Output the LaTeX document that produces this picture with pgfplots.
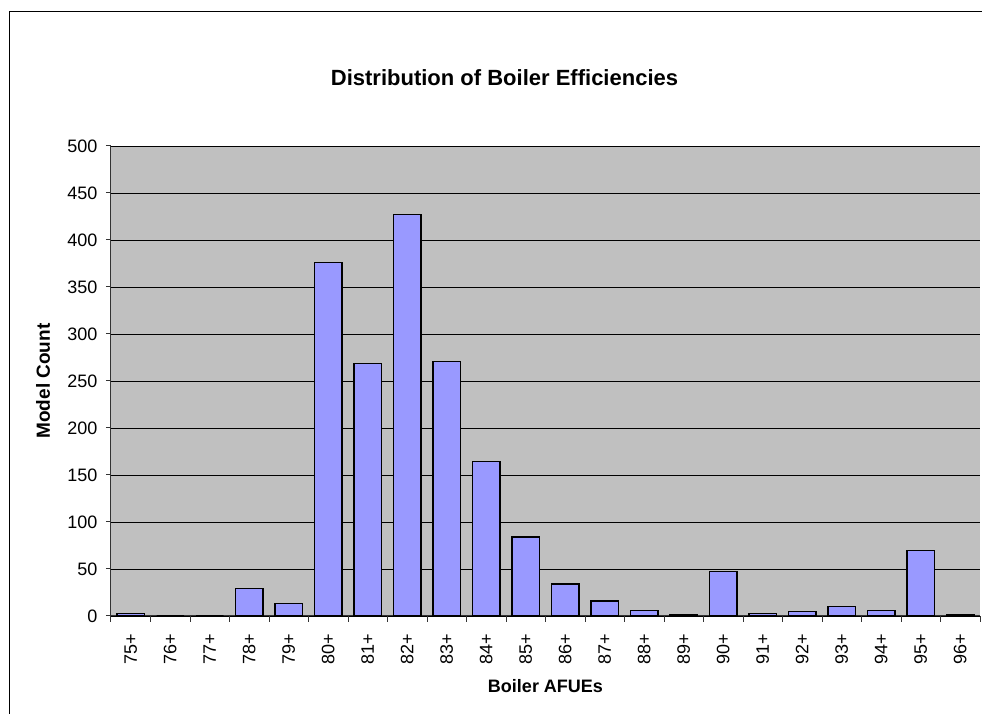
\documentclass[border=0pt]{standalone}
\usepackage{pgfplots}
\pgfplotsset{compat=1.18}
\usepackage{fontspec}
\setmainfont{Liberation Sans}
\definecolor{plotgray}{HTML}{C0C0C0}
\definecolor{barblue}{HTML}{9999FF}
\pgfplotstableread{
x y
0 3
1 0
2 0
3 29
4 13
5 376
6 269
7 427
8 271
9 164
10 84
11 34
12 16
13 6
14 2
15 47
16 3
17 5
18 10
19 6
20 70
21 2
}\datatable
\begin{document}
\begin{tikzpicture}
\useasboundingbox (-111pt,-98pt) rectangle (871pt,616pt);
\draw[line width=1pt] (-101pt,-98pt) -- (-101pt,604pt) -- (871pt,604pt);
\begin{axis}[
  at={(0pt,0pt)}, anchor=south west,
  scale only axis,
  width=869pt, height=470pt,
  xmin=-0.5, xmax=21.5,
  ymin=0, ymax=500,
  axis lines*=left,
  axis line style={line width=1pt, black!80},
  axis background/.style={fill=plotgray},
  ytick={0,50,...,500},
  ymajorgrids,
  major grid style={black, line width=0.9pt},
  xtick={0,...,21},
  xticklabels={75+,76+,77+,78+,79+,80+,81+,82+,83+,84+,85+,86+,87+,88+,89+,90+,91+,92+,93+,94+,95+,96+},
  minor xtick={-0.5,0.5,...,21.5},
  x tick style={draw=none},
  minor x tick style={draw=black!80, line width=1pt},
  y tick style={draw=black!80, line width=1pt},
  tick align=outside,
  major tick length=5pt,
  minor tick length=6pt,
  /pgf/number format/assume math mode=true,
  ticklabel style={font=\fontsize{18}{20}\selectfont},
  xticklabel style={rotate=90, anchor=east, xshift=-9pt},
  yticklabel style={xshift=-5pt},
  ybar,
  bar width=27.5pt,
]
\addplot[fill=barblue, draw=black, line width=1.1pt] table[x=x,y=y] {\datatable};
\end{axis}
\node[font=\fontsize{19}{21}\selectfont\bfseries, rotate=90, anchor=center] at (-68pt,235pt) {Model Count};
\node[font=\fontsize{18}{20}\selectfont\bfseries, anchor=center] at (434.5pt,-70pt) {Boiler AFUEs};
\node[font=\fontsize{22}{24}\selectfont\bfseries, anchor=base] at (393.5pt,530pt) {Distribution of Boiler Efficiencies};
\end{tikzpicture}
\end{document}
